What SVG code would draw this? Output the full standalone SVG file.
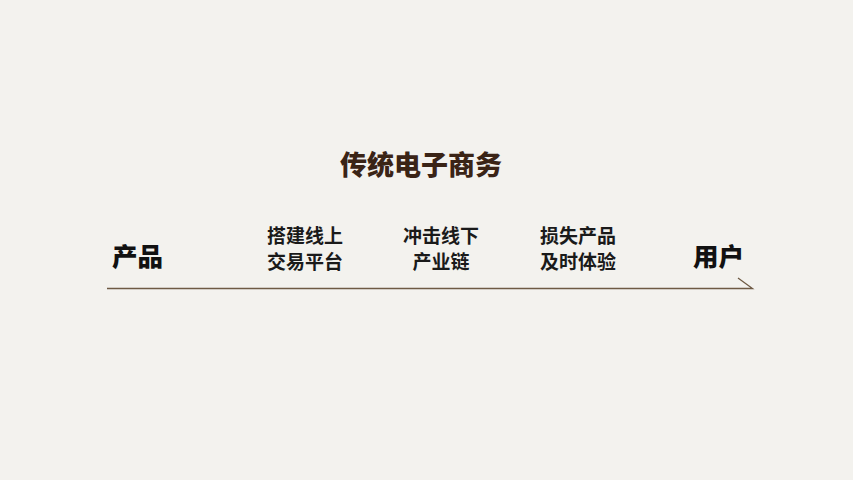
<svg xmlns="http://www.w3.org/2000/svg" width="853" height="480" viewBox="0 0 853 480">
<style>
.t{font-family:"Noto Sans CJK SC","Noto Sans",sans-serif;}
.title{font-size:27px;font-weight:900;fill:#3a2416;text-anchor:middle;}
.big{font-size:25.5px;font-weight:900;fill:#111;text-anchor:middle;}
.lab{font-size:19px;font-weight:bold;fill:#1a1a1a;text-anchor:middle;}
.conn{stroke:#6e5a44;stroke-width:1.3;fill:none;}
</style>
<rect width="853" height="480" fill="#f3f2ee"/>
<g id="title"><text class="t title" x="421" y="175">传统电子商务</text></g>
<g id="connectors">
<path class="conn" d="M107 288.5 H752.5 L738 278"/>
</g>
<g id="node-product"><text class="t big" x="137.5" y="266">产品</text></g>
<g id="node-step1"><text class="t lab" x="305" y="243">搭建线上</text><text class="t lab" x="305" y="269">交易平台</text></g>
<g id="node-step2"><text class="t lab" x="441" y="243">冲击线下</text><text class="t lab" x="441" y="269">产业链</text></g>
<g id="node-step3"><text class="t lab" x="578" y="243">损失产品</text><text class="t lab" x="578" y="269">及时体验</text></g>
<g id="node-user"><text class="t big" x="718.5" y="266">用户</text></g>
</svg>
